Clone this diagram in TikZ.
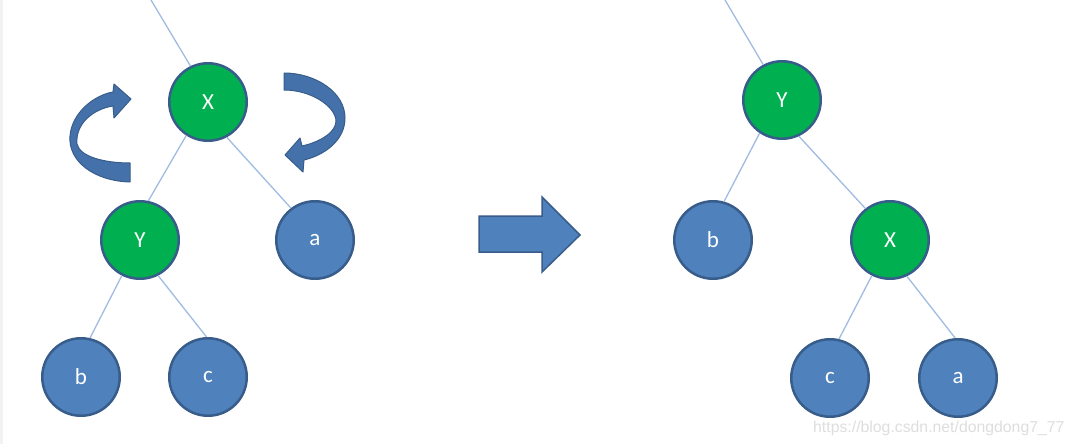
\documentclass[tikz,border=0pt]{standalone}
\usepackage{fontspec}
\setmainfont{Carlito}
\newfontfamily\wmfont{Liberation Sans}
\definecolor{nodeblue}{HTML}{4F81BD}
\definecolor{nodegreen}{HTML}{00B050}
\definecolor{rimblue}{HTML}{385D8A}
\definecolor{edgeblue}{HTML}{A0BCE2}
\definecolor{curvblue}{HTML}{4571AA}
\definecolor{wmgrey}{HTML}{DEDEDE}
\definecolor{stripgrey}{HTML}{F2F2F2}
\tikzset{
  tnode/.style={circle, minimum size=77.5pt, inner sep=0pt, line width=2.5pt, draw=rimblue, text=white, font=\fontsize{23}{23}\selectfont},
  gnode/.style={tnode, fill=nodegreen},
  bnode/.style={tnode, fill=nodeblue},
  edge/.style={draw=edgeblue, line width=1.3pt},
  curv/.style={fill=curvblue, draw=rimblue, line width=1pt, line join=round},
  bigarrow/.style={fill=nodeblue, draw=rimblue, line width=1.5pt, line join=miter}
}
\begin{document}
\begin{tikzpicture}[x=1pt, y=-1pt]
\useasboundingbox (0,0) rectangle (1075,444);
\fill[white] (0,0) rectangle (1075,444);
\fill[stripgrey] (0,0) rectangle (3,444);

% left tree
\coordinate (topL) at (151,0);
\node[gnode] (X1) at (208,102) {X};
\node[gnode] (Y1) at (140,240) {Y};
\node[bnode] (a1) at (315,240) {a};
\node[bnode] (b1) at (81,377) {b};
\node[bnode] (c1) at (208,377) {c};
\draw[edge] (topL) -- (X1.116);
\draw[edge] (X1.237) -- (Y1.78);
\draw[edge] (X1.298) -- (a1.127);
\draw[edge] (Y1.243) -- (b1.77);
\draw[edge] (Y1.297) -- (c1.92);

% right tree
\coordinate (topR) at (725,0);
\node[gnode] (Y2) at (782,100) {Y};
\node[bnode] (b2) at (713,240) {b};
\node[gnode] (X2) at (890,240) {X};
\node[bnode] (c2) at (830,378) {c};
\node[bnode] (a2) at (958,378) {a};
\draw[edge] (topR) -- (Y2.118);
\draw[edge] (Y2.236) -- (b2.74);
\draw[edge] (Y2.295) -- (X2.128);
\draw[edge] (X2.243) -- (c2.77);
\draw[edge] (X2.295) -- (a2.94);

% curved arrows
\path[curv] (130,163) -- (130,182)
  .. controls (95,181) and (68,162) .. (70,136)
  .. controls (72,112) and (95,95) .. (113,92)
  -- (114,84) -- (131,99) -- (114,118) -- (113,106)
  .. controls (93,109) and (75,124) .. (77,144)
  .. controls (80,157) and (105,163) .. (130,163) -- cycle;
\path[curv] (284,73) -- (284,90)
  .. controls (310,90) and (334,105) .. (336,120)
  .. controls (337,132) and (320,142) .. (302,146)
  -- (300,138) -- (285,155) -- (303,172) -- (304,160)
  .. controls (325,155) and (345,140) .. (345,118)
  .. controls (345,92) and (315,73) .. (284,73) -- cycle;

% big arrow
\path[bigarrow] (479,216) -- (542,216) -- (542,197) -- (580,235) -- (542,272) -- (542,252) -- (479,252) -- cycle;

% watermark
\node[anchor=base west, inner sep=0pt, text=wmgrey, font=\wmfont\fontsize{15.8}{16}\selectfont] (wm) at (813,432) {https://blog.csdn.net/dongdong7\_77};
\end{tikzpicture}
\end{document}
